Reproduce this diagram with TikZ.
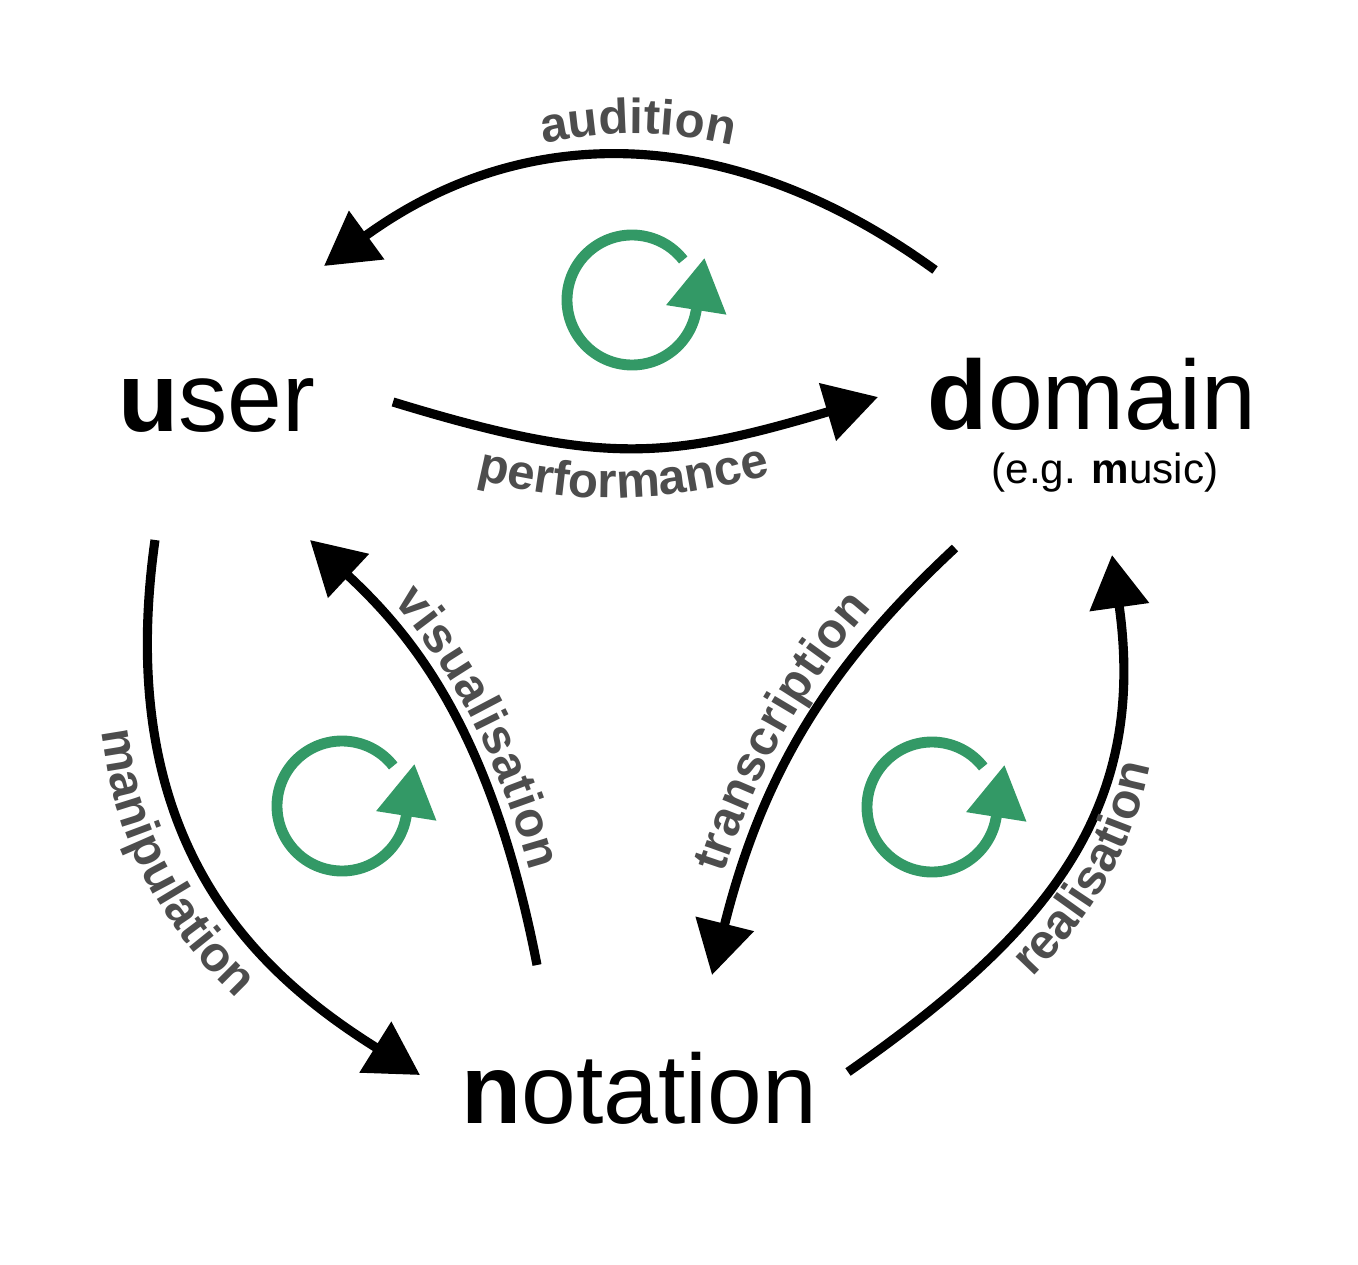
\documentclass[tikz,border=0pt]{standalone}
\usepackage{fontspec}
\setsansfont{Liberation Sans}
\usetikzlibrary{arrows.meta,decorations.text}
\definecolor{ink}{HTML}{000000}
\definecolor{loopgreen}{HTML}{339966}
\definecolor{labgrey}{HTML}{4D4D4D}
\newcommand\labfont{\sffamily\bfseries\fontsize{14}{16}\selectfont}

\begin{document}
\begin{tikzpicture}[x=1cm,y=1cm,font=\sffamily,
 word/.style={anchor=base,inner sep=0pt,font=\sffamily\fontsize{28}{30}\selectfont},
 aside/.style={anchor=base,inner sep=0pt,font=\sffamily\fontsize{12}{14}\selectfont},
 flow/.style={-{Triangle[length=15pt,width=16.5pt]},line width=2.6pt,draw=ink},
 spin/.style={-{Triangle[length=15pt,width=16.5pt]},line width=3.1pt,draw=loopgreen},
 tag/.style={decorate,decoration={text along path,text align=center,text color=labgrey,raise=#1}},
 tag/.default=0pt]
\useasboundingbox (0,0) rectangle (13.58,12.64);

\node[word] (user) at (2.165,8.32) {\textbf{u}ser};
\node[word] (domain) at (10.92,8.34) {\textbf{d}omain};
\node[aside] (domnote) at (11.05,7.80) {(e.g. \textbf{m}usic)};
\node[word] (notation) at (6.39,1.41) {\textbf{n}otation};

% the six transitions between the three corners
\draw[flow] ([shift={(-1.57,1.60)}]domain.base) .. controls +(144:2.5) and +(36:2.5) .. ([shift={(1.075,1.66)}]user.base);
\draw[flow] ([shift={(1.765,.30)}]user.base) .. controls +(-17:2.2) and +(196.5:2.2) .. ([shift={(-2.14,.33)}]domain.base);
\draw[flow] ([shift={(-.615,-1.08)}]user.base) .. controls +(262:3.0) and +(148:2.0) .. ([shift={(-2.19,.48)}]notation.base);
\draw[flow] ([shift={(-1.02,1.58)}]notation.base) .. controls +(101:2.4) and +(317:1.4) .. ([shift={(.935,-1.08)}]user.base);
\draw[flow] ([shift={(-1.37,-1.18)}]domain.base) .. controls +(223:1.6) and +(76:2.2) .. ([shift={(.73,1.48)}]notation.base);
\draw[flow] ([shift={(2.09,.51)}]notation.base) .. controls +(35:2.4) and +(278:2.6) .. ([shift={(.20,-1.25)}]domain.base);

% labels run along shifted copies of the arrow curves
\path[tag,decoration={text={|\labfont|audition}}] ([shift={(1.155,1.90)}]user.base) .. controls +(36:2.5) and +(144:2.5) .. ([shift={(-1.49,1.84)}]domain.base);
\path[tag,decoration={text={|\labfont|performance}}] ([shift={(1.645,-.21)}]user.base) .. controls +(-17:2.2) and +(196.5:2.2) .. ([shift={(-2.26,-.18)}]domain.base);
\path[tag,decoration={text={|\labfont|manipulation}}] ([shift={(-1.11,-1.32)}]user.base) .. controls +(262:3.0) and +(148:2.0) .. ([shift={(-2.68,.24)}]notation.base);
\path[tag=.17cm,decoration={text={|\labfont|visualisation}}] ([shift={(.935,-1.08)}]user.base) .. controls +(317:1.4) and +(101:2.4) .. ([shift={(-1.02,1.48)}]notation.base);
\path[tag=.17cm,decoration={text={|\labfont|transcription}}] ([shift={(.73,1.48)}]notation.base) .. controls +(76:2.2) and +(223:1.6) .. ([shift={(-1.37,-1.18)}]domain.base);
\path[tag,decoration={text={|\labfont|realisation}}] ([shift={(2.48,.27)}]notation.base) .. controls +(35:2.4) and +(278:2.6) .. ([shift={(.59,-1.49)}]domain.base);

% green loop marks inside the three cycles
\foreach \cx/\cy/\name in {6.32/9.64/top,3.42/4.58/left,9.32/4.57/right} {
 \coordinate (loop-\name) at (\cx,\cy);
 \draw[spin] (loop-\name) ++(38:.65) arc[start angle=38,end angle=351,radius=.65] -- ++(81:.53);
}
\end{tikzpicture}
\end{document}
